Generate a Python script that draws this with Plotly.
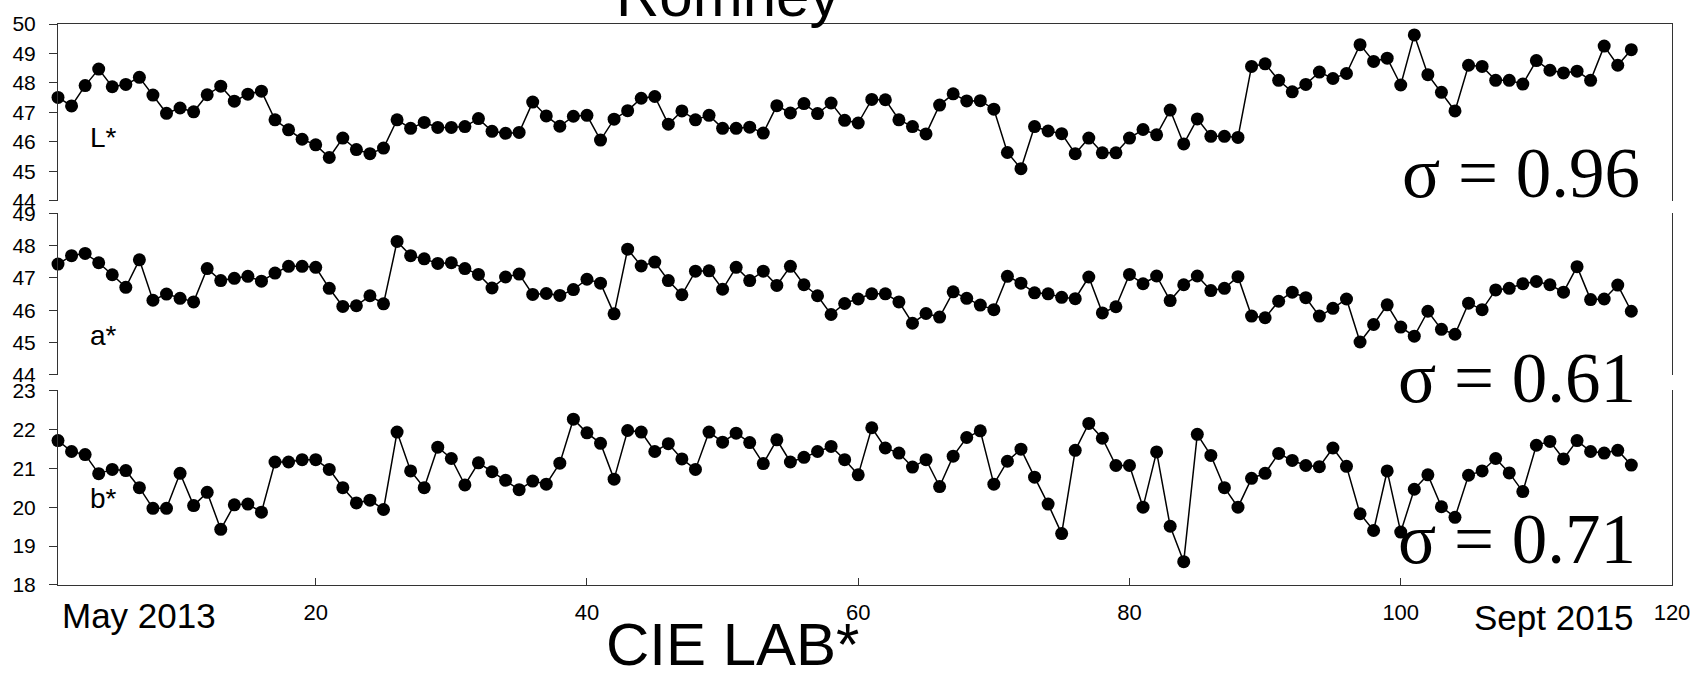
import plotly.graph_objects as go

sample = list(range(1, 118))

L_star = [47.51, 47.22, 47.91, 48.47, 47.87, 47.95, 48.19, 47.59, 46.97, 47.15,
          47.02, 47.60, 47.89, 47.38, 47.62, 47.72, 46.75, 46.41, 46.09, 45.90,
          45.47, 46.13, 45.74, 45.60, 45.79, 46.75, 46.46, 46.66, 46.49, 46.49,
          46.52, 46.79, 46.36, 46.29, 46.32, 47.35, 46.88, 46.53, 46.87, 46.90,
          46.06, 46.77, 47.06, 47.48, 47.54, 46.60, 47.05, 46.75, 46.90, 46.46,
          46.46, 46.50, 46.30, 47.23, 46.98, 47.30, 46.96, 47.32, 46.73, 46.64,
          47.44, 47.43, 46.75, 46.52, 46.27, 47.25, 47.63, 47.39, 47.40, 47.11,
          45.64, 45.09, 46.52, 46.37, 46.28, 45.60, 46.13, 45.63, 45.63, 46.13,
          46.42, 46.24, 47.08, 45.93, 46.78, 46.19, 46.19, 46.15, 48.56, 48.65,
          48.09, 47.70, 47.95, 48.37, 48.15, 48.32, 49.30, 48.73, 48.84, 47.93,
          49.63, 48.28, 47.68, 47.05, 48.60, 48.56, 48.09, 48.09, 47.96, 48.76,
          48.43, 48.34, 48.40, 48.09, 49.25, 48.60, 49.13]

a_star = [47.43, 47.69, 47.76, 47.47, 47.10, 46.71, 47.56, 46.31, 46.50, 46.37,
          46.26, 47.29, 46.92, 46.99, 47.05, 46.90, 47.15, 47.36, 47.36, 47.33,
          46.68, 46.12, 46.14, 46.45, 46.20, 48.13, 47.69, 47.59, 47.45, 47.47,
          47.29, 47.11, 46.69, 47.03, 47.12, 46.49, 46.52, 46.46, 46.64, 46.96,
          46.84, 45.89, 47.89, 47.37, 47.49, 46.92, 46.48, 47.21, 47.22, 46.65,
          47.33, 46.92, 47.21, 46.77, 47.36, 46.79, 46.45, 45.87, 46.21, 46.35,
          46.51, 46.51, 46.26, 45.60, 45.90, 45.79, 46.57, 46.37, 46.16, 46.02,
          47.05, 46.84, 46.54, 46.51, 46.40, 46.36, 47.03, 45.92, 46.11, 47.11,
          46.82, 47.06, 46.30, 46.79, 47.06, 46.61, 46.68, 47.04, 45.82, 45.77,
          46.28, 46.56, 46.39, 45.82, 46.06, 46.35, 45.02, 45.56, 46.17, 45.48,
          45.20, 45.97, 45.41, 45.26, 46.22, 46.02, 46.63, 46.68, 46.82, 46.89,
          46.79, 46.56, 47.35, 46.33, 46.35, 46.78, 45.97]

b_star = [21.71, 21.43, 21.35, 20.86, 20.97, 20.94, 20.50, 19.97, 19.97, 20.87,
          20.04, 20.38, 19.43, 20.06, 20.08, 19.87, 21.16, 21.16, 21.22, 21.22,
          20.97, 20.50, 20.11, 20.18, 19.94, 21.93, 20.93, 20.50, 21.54, 21.25,
          20.57, 21.14, 20.91, 20.69, 20.45, 20.67, 20.59, 21.13, 22.26, 21.91,
          21.64, 20.72, 21.97, 21.93, 21.43, 21.63, 21.24, 20.97, 21.93, 21.67,
          21.90, 21.66, 21.12, 21.73, 21.16, 21.28, 21.43, 21.56, 21.22, 20.83,
          22.04, 21.52, 21.39, 21.03, 21.22, 20.53, 21.31, 21.79, 21.96, 20.59,
          21.18, 21.49, 20.77, 20.08, 19.32, 21.46, 22.15, 21.77, 21.07, 21.07,
          20.00, 21.42, 19.51, 18.60, 21.87, 21.33, 20.50, 20.00, 20.74, 20.87,
          21.38, 21.20, 21.07, 21.04, 21.52, 21.05, 19.83, 19.40, 20.93, 19.36,
          20.46, 20.83, 20.01, 19.74, 20.82, 20.93, 21.25, 20.88, 20.40, 21.59,
          21.69, 21.24, 21.71, 21.43, 21.39, 21.46, 21.08]

x_ticks = [20, 40, 60, 80, 100, 120]
sigma_labels = ["σ = 0.96", "σ = 0.61", "σ = 0.71"]
panel_labels = ["L*", "a*", "b*"]

SANS = "Liberation Sans, Arial, sans-serif"
SERIF = "Liberation Serif, Times New Roman, serif"

fig = go.Figure()
series = [(L_star, "x3", "y"), (a_star, "x2", "y2"), (b_star, "x", "y3")]
for vals, xa, ya in series:
    fig.add_trace(go.Scatter(
        x=sample, y=vals, xaxis=xa, yaxis=ya, mode="lines+markers",
        line=dict(color="black", width=1.5),
        marker=dict(color="black", size=13, symbol="circle"),
        cliponaxis=False, showlegend=False, hoverinfo="x+y"))

yax_common = dict(showline=True, linecolor="#333", linewidth=1, mirror=True,
                  ticks="outside", ticklen=8, tickcolor="#333", dtick=1,
                  showgrid=False, zeroline=False, ticklabelstandoff=9,
                  tickfont=dict(family=SANS, size=21, color="black"))

fig.update_layout(
    width=1702, height=675,
    margin=dict(l=58, r=29, t=18, b=90),
    paper_bgcolor="white", plot_bgcolor="white",
    xaxis=dict(domain=[0, 1], anchor="y3", range=[1, 120], showline=True,
               linecolor="#333", linewidth=1, ticks="inside", ticklen=7,
               tickcolor="#333", tickvals=x_ticks, showgrid=False, zeroline=False,
               ticklabelstandoff=8,
               tickfont=dict(family=SANS, size=22, color="black")),
    xaxis2=dict(domain=[0, 1], anchor="y2", matches="x", visible=False),
    xaxis3=dict(domain=[0, 1], anchor="y", matches="x", side="top", showline=True,
                linecolor="#333", linewidth=1, ticks="", showticklabels=False,
                showgrid=False, zeroline=False),
    yaxis=dict(domain=[0.6848, 1.0], range=[44, 50], anchor="x3", **yax_common),
    yaxis2=dict(domain=[0.3744, 0.6626], range=[44, 49], anchor="x2", **yax_common),
    yaxis3=dict(domain=[0.0, 0.3469], range=[18, 23], anchor="x", **yax_common),
)

annots = [
    dict(text="Romney", x=0.4149, y=1.0503, xanchor="center", yanchor="middle",
         font=dict(family=SANS, size=60, color="black")),
    dict(text="CIE LAB*", x=0.418, y=-0.106, xanchor="center", yanchor="middle",
         font=dict(family=SANS, size=60, color="black")),
    dict(text="May 2013", x=0.0015, y=-0.0541, xanchor="left", yanchor="middle",
         font=dict(family=SANS, size=35, color="black")),
    dict(text="Sept 2015", x=0.978, y=-0.0582, xanchor="right", yanchor="middle",
         font=dict(family=SANS, size=35, color="black")),
    dict(text=panel_labels[0], x=0.0186, y=0.797, xanchor="left", yanchor="middle",
         font=dict(family=SANS, size=28, color="black")),
    dict(text=panel_labels[1], x=0.0186, y=0.4444, xanchor="left", yanchor="middle",
         font=dict(family=SANS, size=28, color="black")),
    dict(text=panel_labels[2], x=0.0186, y=0.1534, xanchor="left", yanchor="middle",
         font=dict(family=SANS, size=28, color="black")),
    dict(text=sigma_labels[0], x=0.9814, y=0.735, xanchor="right", yanchor="middle",
         font=dict(family=SERIF, size=71, color="black")),
    dict(text=sigma_labels[1], x=0.979, y=0.3683, xanchor="right", yanchor="middle",
         font=dict(family=SERIF, size=71, color="black")),
    dict(text=sigma_labels[2], x=0.979, y=0.0826, xanchor="right", yanchor="middle",
         font=dict(family=SERIF, size=71, color="black")),
]
for a in annots:
    fig.add_annotation(xref="paper", yref="paper", showarrow=False, **a)

fig.write_html("out.html")
